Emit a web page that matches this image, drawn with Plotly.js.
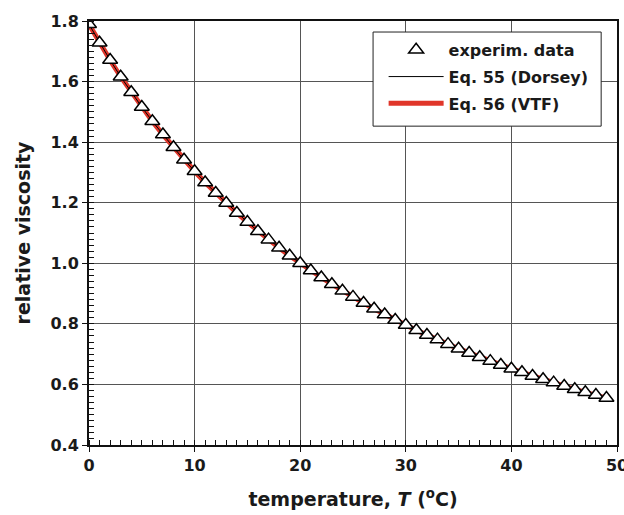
<!DOCTYPE html>
<html>
<head>
<meta charset="utf-8">
<script src="https://cdn.plot.ly/plotly-3.0.1.min.js"></script>
<style>html,body{margin:0;padding:0;background:#fff;}#chart{width:624px;height:515px;}</style>
</head>
<body>
<div id="chart"></div>
<script>
// temperature (°C)
var temperature = [0,1,2,3,4,5,6,7,8,9,10,11,12,13,14,15,16,17,18,19,20,21,22,23,24,25,26,27,28,29,30,31,32,33,34,35,36,37,38,39,40,41,42,43,44,45,46,47,48,49];
// experimental relative viscosity
var experim = [1.789,1.728,1.671,1.616,1.565,1.516,1.469,1.425,1.383,1.342,1.304,1.267,1.232,1.199,1.166,1.136,1.106,1.078,1.051,1.025,1.000,0.976,0.953,0.931,0.909,0.889,0.869,0.850,0.831,0.813,0.796,0.779,0.763,0.748,0.733,0.718,0.704,0.690,0.677,0.664,0.652,0.640,0.628,0.617,0.606,0.595,0.584,0.574,0.565,0.555];
// Eq. 55 (Dorsey) curve values
var eq55 = [1.789,1.728,1.671,1.616,1.565,1.516,1.469,1.425,1.383,1.342,1.304,1.267,1.232,1.199,1.166,1.136,1.106,1.078,1.051,1.025,1.000,0.976,0.953,0.931,0.909,0.889,0.869,0.850,0.831,0.813,0.796,0.779,0.763,0.748,0.733,0.718,0.704,0.690,0.677,0.664,0.652,0.640,0.628,0.617,0.606,0.595,0.584,0.574,0.565,0.555];
// Eq. 56 (VTF) curve values
var eq56 = [1.789,1.728,1.671,1.616,1.565,1.516,1.469,1.425,1.383,1.342,1.304,1.267,1.232,1.199,1.166,1.136,1.106,1.078,1.051,1.025,1.000,0.976,0.953,0.931,0.909,0.889,0.869,0.850,0.831,0.813,0.796,0.779,0.763,0.748,0.733,0.718,0.704,0.690,0.677,0.664,0.652,0.640,0.628,0.617,0.606,0.595,0.584,0.574,0.565,0.555];
var seriesNames = ['experim. data', 'Eq. 55 (Dorsey)', 'Eq. 56 (VTF)'];

var FAM = 'DejaVu Sans, Liberation Sans, Arial, sans-serif';
var INK = '#1a1a1a';

var traces = [
  {x: temperature, y: eq56, name: seriesNames[2], mode: 'lines', legendrank: 3, legendgroup: 'c',
   line: {color: '#e0362a', width: 5}},
  {x: temperature, y: eq55, name: seriesNames[1], mode: 'lines', legendrank: 2, legendgroup: 'b',
   line: {color: '#000', width: 1}},
  {x: temperature, y: experim, name: seriesNames[0], mode: 'markers', legendrank: 1, legendgroup: 'a',
   marker: {symbol: 'triangle-up', size: 13, color: '#fff', line: {width: 1.5, color: '#000'}}}
];

var layout = {
  width: 624, height: 515,
  margin: {l: 89, r: 7, t: 21, b: 70},
  paper_bgcolor: '#fff', plot_bgcolor: '#fff',
  showlegend: true,
  legend: {
    x: 0.558, y: 0.972, xanchor: 'left', yanchor: 'top',
    bgcolor: 'rgba(0,0,0,0)', borderwidth: 0,
    font: {family: FAM, size: 16, color: INK, weight: 'bold'},
    itemwidth: 55, tracegroupgap: 3
  },
  shapes: [
    {type: 'rect', xref: 'paper', yref: 'paper', x0: 0.538, x1: 0.970, y0: 0.752, y1: 0.974,
     fillcolor: '#fff', line: {color: '#222', width: 1}, layer: 'above'}
  ],
  xaxis: {
    range: [0, 50], dtick: 10, tick0: 0, ticklabeloverflow: 'allow',
    showline: true, linecolor: '#111', linewidth: 2, mirror: true,
    showgrid: true, gridcolor: '#555', gridwidth: 1,
    zeroline: false,
    ticks: 'outside', ticklen: 5, tickwidth: 1, tickcolor: '#111',
    minor: {dtick: 1, ticks: 'inside', ticklen: 5, tickwidth: 1, tickcolor: '#111', showgrid: false},
    tickfont: {family: FAM, size: 16, color: INK, weight: 'bold'},
    title: {text: 'temperature, <i>T</i> (<sup>o</sup>C)', standoff: 18,
            font: {family: FAM, size: 19, color: INK, weight: 'bold'}}
  },
  yaxis: {
    range: [0.4, 1.8], dtick: 0.2, tick0: 0.4, tickformat: '.1f',
    showline: true, linecolor: '#111', linewidth: 2, mirror: true,
    showgrid: true, gridcolor: '#555', gridwidth: 1,
    zeroline: false,
    ticks: 'outside', ticklen: 5, tickwidth: 1, tickcolor: '#111',
    minor: {dtick: 0.02, ticks: 'inside', ticklen: 5, tickwidth: 1, tickcolor: '#111', showgrid: false},
    tickfont: {family: FAM, size: 16, color: INK, weight: 'bold'},
    title: {text: 'relative viscosity', standoff: 15,
            font: {family: FAM, size: 19, color: INK, weight: 'bold'}}
  }
};

Plotly.newPlot('chart', traces, layout, {displayModeBar: false, staticPlot: true});
</script>
</body>
</html>
